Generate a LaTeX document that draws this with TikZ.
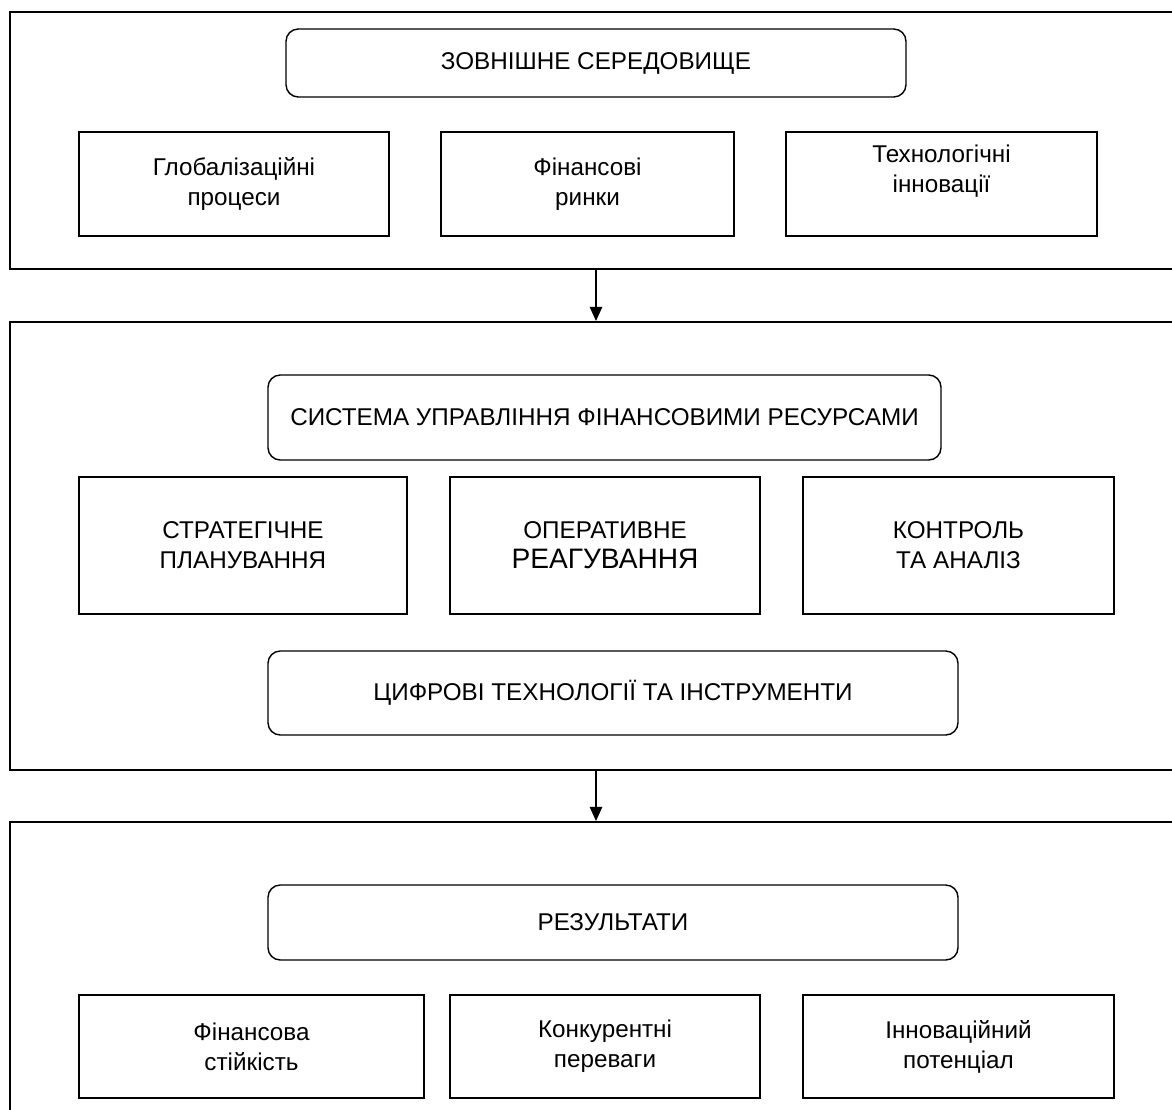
\documentclass[tikz,border=0pt]{standalone}
\usepackage{fontspec}
\setmainfont{Liberation Sans}
\usetikzlibrary{arrows.meta, positioning}

\begin{document}
\begin{tikzpicture}[
  frame/.style={rectangle,draw=black,line width=1.1pt,inner sep=0pt},
  head/.style={rectangle,draw=black,line width=0.8pt,rounded corners=7pt, minimum width=12.4cm,minimum height=1.36cm,align=center,font=\fontsize{13.8}{17}\selectfont},
  item/.style={rectangle,draw=black,line width=0.8pt, minimum width=6.2cm,minimum height=2.08cm,align=center,font=\fontsize{13.8}{17}\selectfont},
  arr/.style={-{Triangle[length=8pt,width=7pt]},line width=0.9pt}
]
  \path[use as bounding box] (0,0) rectangle (23.44,-22.2);
  \clip (0,0) rectangle (23.44,-22.2);

  % outer blocks
  \node[frame,minimum width=23.6cm,minimum height=5.14cm] (outA) at (12.0,-2.81)  {};
  \node[frame,minimum width=23.6cm,minimum height=8.96cm] (outB) at (12.0,-10.92) {};
  \node[frame,minimum width=23.6cm,minimum height=6.16cm] (outC) at (12.0,-19.52) {};

  % external environment
  \node[head]  (env)  at (11.92,-1.26) {ЗОВНІШНЕ СЕРЕДОВИЩЕ};
  \node[item]  (glob) at (4.68,-3.68)  {Глобалізаційні\\процеси};
  \node[item,minimum width=5.86cm] (fin) at (11.75,-3.68) {Фінансові\\ринки};
  \node[item,minimum width=6.22cm] (tech) at (18.83,-3.68) {Технологічні\\інновації\\\mbox{}};

  % management system
  \node[head,minimum width=13.46cm,minimum height=1.7cm] (sys) at (12.09,-8.35) {СИСТЕМА УПРАВЛІННЯ ФІНАНСОВИМИ РЕСУРСАМИ};
  \node[item,minimum width=6.56cm,minimum height=2.74cm] (strat) at (4.86,-10.91)  {СТРАТЕГІЧНЕ\\ПЛАНУВАННЯ};
  \node[item,minimum height=2.74cm] (oper) at (12.1,-10.91) {ОПЕРАТИВНЕ\\{\fontsize{16}{18}\selectfont РЕАГУВАННЯ}};
  \node[item,minimum width=6.22cm,minimum height=2.74cm] (ctrl) at (19.17,-10.91) {КОНТРОЛЬ\\ТА АНАЛІЗ};
  \node[head,minimum width=13.8cm,minimum height=1.68cm] (digi) at (12.26,-13.86) {ЦИФРОВІ ТЕХНОЛОГІЇ ТА ІНСТРУМЕНТИ};

  % results
  \node[head,minimum width=13.8cm,minimum height=1.5cm] (res) at (12.26,-18.45) {РЕЗУЛЬТАТИ};
  \node[item,minimum width=6.9cm,minimum height=2.06cm] (stab) at (5.03,-20.93) {Фінансова\\стійкість};
  \node[item,minimum height=2.06cm] (konk) at (12.1,-20.93) {Конкурентні\\переваги};
  \node[item,minimum width=6.22cm,minimum height=2.06cm] (innov) at (19.17,-20.93) {Інноваційний\\потенціал};

  \draw[arr] (env |- outA.south) -- (env |- outB.north);
  \draw[arr] (env |- outB.south) -- (env |- outC.north);
\end{tikzpicture}
\end{document}
